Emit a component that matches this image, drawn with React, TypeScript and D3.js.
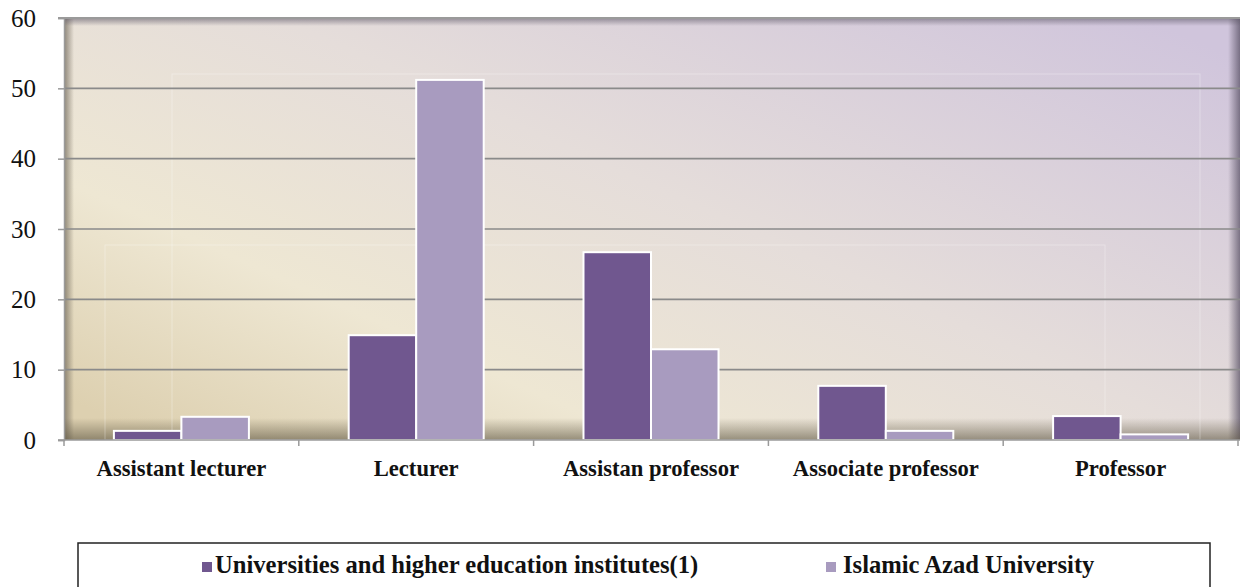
import { useEffect, useRef } from "react";
import * as d3 from "d3";

const categories = ["Assistant lecturer", "Lecturer", "Assistan professor", "Associate professor", "Professor"];
const seriesNames = ["Universities and higher education institutes(1)", "Islamic Azad University"];
const universities = [1.3, 14.9, 26.7, 7.7, 3.4];
const azad = [3.3, 51.2, 12.9, 1.3, 0.8];
const yTicks = [0, 10, 20, 30, 40, 50, 60];
const colors = ["#70578f", "#a89bbf"];

export default function App() {
  const ref = useRef<SVGSVGElement>(null);

  useEffect(() => {
    const svg = d3.select(ref.current);
    svg.selectAll("*").remove();

    const W = 1240, H = 587;
    const left = 64, right = 1238, top = 18, bottom = 440;
    const font = "Liberation Serif, Times New Roman, Times, serif";

    const x = d3.scaleBand().domain(categories).range([left, right]).paddingInner(0.425).paddingOuter(0.2125);
    const x1 = d3.scaleBand().domain(["0", "1"]).range([0, x.bandwidth()]);
    const y = d3.scaleLinear().domain([0, 60]).range([bottom, top]);

    const defs = svg.append("defs");
    const bg = defs.append("linearGradient").attr("id", "bg").attr("x1", "0").attr("y1", "0.9").attr("x2", "1").attr("y2", "0.1");
    bg.append("stop").attr("offset", "0").attr("stop-color", "#ddd0b0");
    bg.append("stop").attr("offset", "0.25").attr("stop-color", "#eee7d3");
    bg.append("stop").attr("offset", "0.55").attr("stop-color", "#e5ddda");
    bg.append("stop").attr("offset", "1").attr("stop-color", "#d0c5dc");

    const shL = defs.append("linearGradient").attr("id", "shL").attr("x1", "0").attr("x2", "1");
    shL.append("stop").attr("offset", "0").attr("stop-color", "#6e6658").attr("stop-opacity", 0.75);
    shL.append("stop").attr("offset", "1").attr("stop-color", "#6e6658").attr("stop-opacity", 0);
    const shR = defs.append("linearGradient").attr("id", "shR").attr("x1", "1").attr("x2", "0");
    shR.append("stop").attr("offset", "0").attr("stop-color", "#5a5266").attr("stop-opacity", 0.75);
    shR.append("stop").attr("offset", "1").attr("stop-color", "#5a5266").attr("stop-opacity", 0);
    const shT = defs.append("linearGradient").attr("id", "shT").attr("x1", "0").attr("y1", "0").attr("x2", "0").attr("y2", "1");
    shT.append("stop").attr("offset", "0").attr("stop-color", "#5e5868").attr("stop-opacity", 0.6);
    shT.append("stop").attr("offset", "1").attr("stop-color", "#5e5868").attr("stop-opacity", 0);
    const shB = defs.append("linearGradient").attr("id", "shB").attr("x1", "0").attr("y1", "1").attr("x2", "0").attr("y2", "0");
    shB.append("stop").attr("offset", "0").attr("stop-color", "#5c5440").attr("stop-opacity", 0.6);
    shB.append("stop").attr("offset", "1").attr("stop-color", "#5c5440").attr("stop-opacity", 0);

    svg.attr("width", W).attr("height", H);

    // plot background
    svg.append("rect").attr("x", left).attr("y", top).attr("width", W - left).attr("height", bottom - top).attr("fill", "url(#bg)");
    svg.append("rect").attr("x", left).attr("y", top).attr("width", 10).attr("height", bottom - top).attr("fill", "url(#shL)");
    svg.append("rect").attr("x", W - 12).attr("y", top).attr("width", 12).attr("height", bottom - top).attr("fill", "url(#shR)");
    svg.append("rect").attr("x", left).attr("y", top).attr("width", W - left).attr("height", 8).attr("fill", "url(#shT)");
    svg.append("rect").attr("x", left).attr("y", bottom - 22).attr("width", W - left).attr("height", 22).attr("fill", "url(#shB)");
    svg.append("rect").attr("x", 105).attr("y", 245).attr("width", 1000).attr("height", bottom - 245)
      .attr("fill", "none").attr("stroke", "#ffffff").attr("stroke-opacity", 0.3);
    svg.append("rect").attr("x", 172).attr("y", 74).attr("width", 1028).attr("height", bottom - 74)
      .attr("fill", "none").attr("stroke", "#ffffff").attr("stroke-opacity", 0.3);

    // gridlines
    svg.append("g").selectAll("line").data(yTicks.filter(t => t > 0 && t < 60)).join("line")
      .attr("x1", left).attr("x2", W).attr("y1", d => y(d)).attr("y2", d => y(d))
      .attr("stroke", "#8a8a8a").attr("stroke-width", 1.6);
    svg.append("line").attr("x1", left - 6).attr("x2", W).attr("y1", top).attr("y2", top)
      .attr("stroke", "#9a9a9a").attr("stroke-width", 2);

    // bars
    const series = [universities, azad];
    series.forEach((vals, si) => {
      svg.append("g").selectAll("rect").data(vals).join("rect")
        .attr("x", (_, i) => x(categories[i])! + x1(String(si))!)
        .attr("y", d => y(d))
        .attr("width", x1.bandwidth())
        .attr("height", d => y(0) - y(d))
        .attr("fill", colors[si])
        .attr("stroke", "#ffffff").attr("stroke-width", 2);
    });

    // axes
    const yAxis = svg.append("g").attr("transform", `translate(${left},0)`)
      .call(d3.axisLeft(y).tickValues(yTicks).tickSize(6).tickPadding(22));
    yAxis.select(".domain").attr("stroke", "#9a9a9a").attr("stroke-width", 1.5);
    yAxis.selectAll(".tick line").attr("stroke", "#9a9a9a").attr("stroke-width", 1.5);
    yAxis.selectAll("text").attr("font-family", font).attr("font-size", 25).attr("fill", "#111");

    const xTicks = d3.range(categories.length + 1).map(i => left + i * x.step());
    svg.append("line").attr("x1", left - 6).attr("x2", W).attr("y1", bottom).attr("y2", bottom)
      .attr("stroke", "#9a9a9a").attr("stroke-width", 1.5);
    svg.append("g").selectAll("line").data(xTicks).join("line")
      .attr("x1", d => d).attr("x2", d => d).attr("y1", bottom).attr("y2", bottom + 6)
      .attr("stroke", "#9a9a9a").attr("stroke-width", 1.5);
    svg.append("g").selectAll("text").data(categories).join("text")
      .attr("x", d => x(d)! + x.bandwidth() / 2).attr("y", 476)
      .attr("text-anchor", "middle").attr("font-family", font).attr("font-weight", "bold")
      .attr("font-size", 22.6).attr("fill", "#111").text(d => d);

    // legend
    svg.append("rect").attr("x", 78).attr("y", 543).attr("width", 1132).attr("height", 70)
      .attr("fill", "#fff").attr("stroke", "#222").attr("stroke-width", 1.5);
    const legendX = [202, 826];
    const legendTextX = [215, 843];
    seriesNames.forEach((name, i) => {
      svg.append("rect").attr("x", legendX[i]).attr("y", 562).attr("width", 10).attr("height", 10).attr("fill", colors[i]);
      svg.append("text").attr("x", legendTextX[i]).attr("y", 573)
        .attr("font-family", font).attr("font-weight", "bold").attr("font-size", 24.6).attr("fill", "#111").text(name);
    });
  }, []);

  return <svg ref={ref} style={{ position: "absolute", left: 0, top: 0 }} />;
}
